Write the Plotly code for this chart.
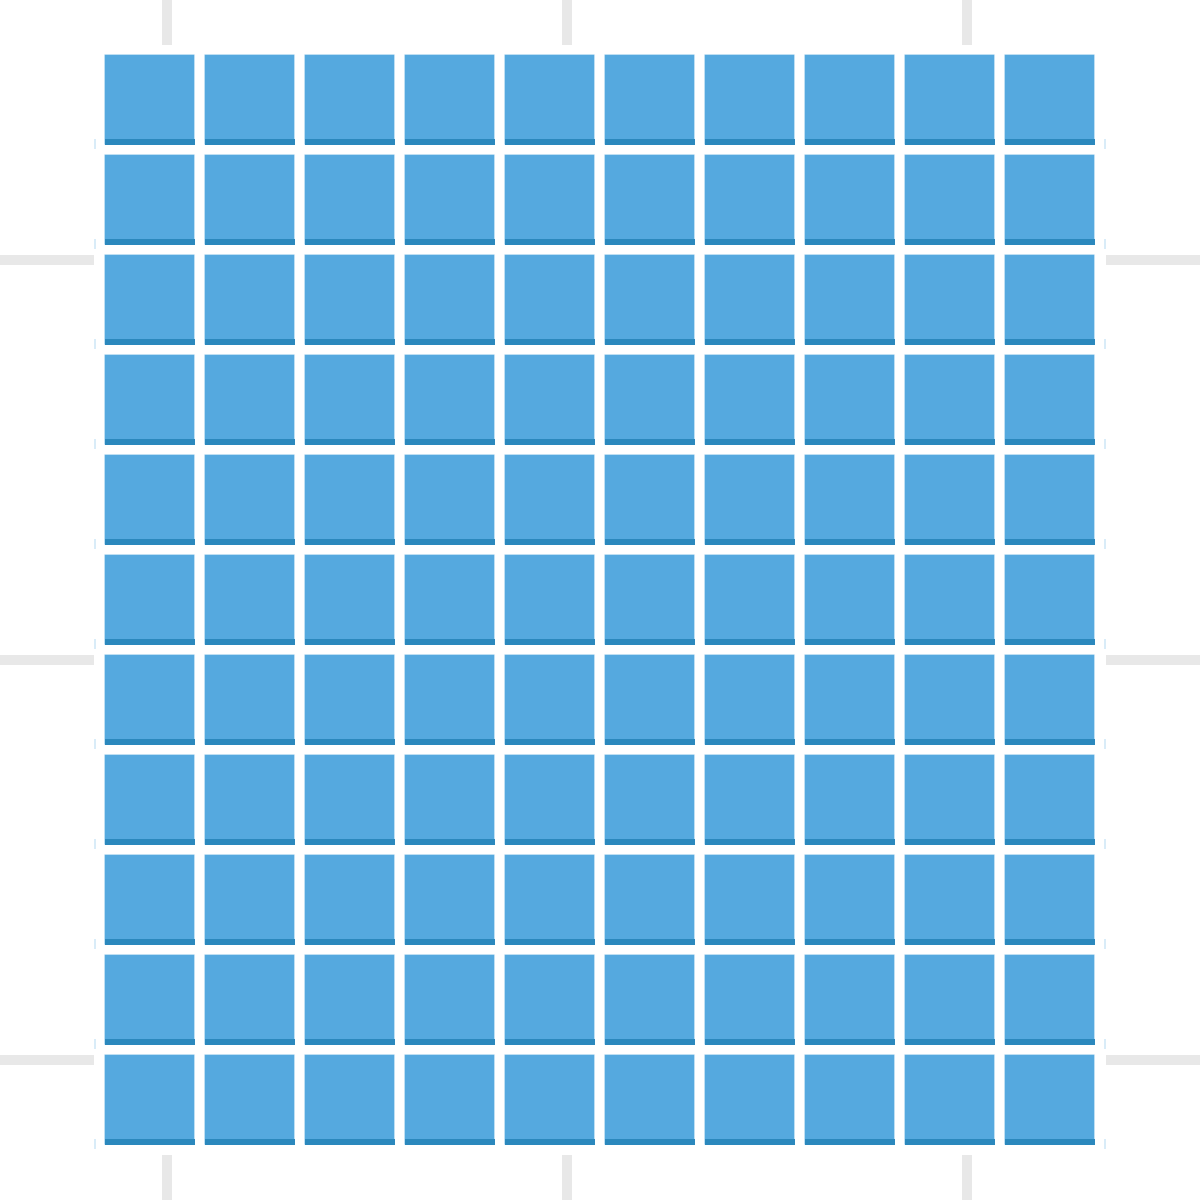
import plotly.graph_objects as go

# Waffle grid: 10 columns x 11 rows, every unit in the same category
columns = list(range(10))
rows = list(range(11))
unit_color = "#55a9df"
strip_color = "#2b88bd"

cell_x = []
cell_base = []
for r in rows:
    for c in columns:
        cell_x.append(c + 1.5)
        cell_base.append(r + 0.55)

fig = go.Figure()
fig.add_trace(go.Bar(
    x=cell_x, y=[0.9] * len(cell_x), base=cell_base, width=0.9,
    marker=dict(color=unit_color, line=dict(color="rgba(255,255,255,0.25)", width=1)),
    hoverinfo="skip", showlegend=False,
))
fig.add_trace(go.Bar(
    x=cell_x, y=[0.06] * len(cell_x), base=cell_base, width=0.9,
    marker=dict(color=strip_color, line=dict(width=0)),
    hoverinfo="skip", showlegend=False,
))

# faint tick marks at the row bottoms on both sides
tx, ty = [], []
for r in rows:
    for xv in (0.95, 11.05):
        tx += [xv, xv, None]
        ty += [r + 0.51, r + 0.61, None]
fig.add_trace(go.Scatter(x=tx, y=ty, mode="lines",
                         line=dict(color="rgba(85,169,223,0.45)", width=1),
                         hoverinfo="skip", showlegend=False))

fig.add_shape(type="rect", x0=0.94, x1=11.06, y0=0.45, y1=11.55,
              fillcolor="white", line=dict(width=0), layer="between")

fig.update_layout(
    width=1200, height=1200,
    margin=dict(l=0, r=0, t=0, b=0),
    paper_bgcolor="white", plot_bgcolor="white",
    barmode="overlay", bargap=0,
    xaxis=dict(range=[0, 12], tick0=1.67, dtick=4, showgrid=True,
               gridcolor="#e8e8e8", gridwidth=10, zeroline=False,
               showticklabels=False, ticks="", fixedrange=True),
    yaxis=dict(range=[0, 12], tick0=1.4, dtick=4, showgrid=True,
               gridcolor="#e8e8e8", gridwidth=10, zeroline=False,
               showticklabels=False, ticks="", fixedrange=True),
)
fig.write_html("out.html", config={"displayModeBar": False},
               post_script="document.body.style.margin='0';document.body.style.overflow='hidden';")
